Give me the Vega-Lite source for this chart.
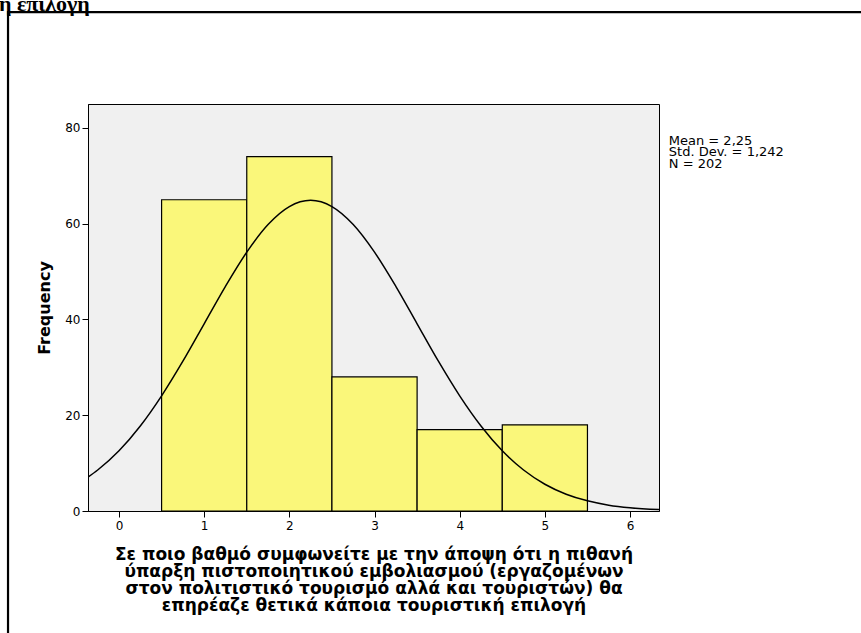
{
  "$schema": "https://vega.github.io/schema/vega-lite/v6.json",
  "width": 571,
  "height": 407,
  "autosize": "none",
  "padding": {"left": 88, "top": 104, "right": 202, "bottom": 122},
  "background": "white",
  "config": {
    "view": {"stroke": "black", "strokeWidth": 1, "fill": "#F0F0F0"},
    "axis": {
      "labelFont": "DejaVu Sans",
      "labelFontSize": 12,
      "labelColor": "black",
      "titleFont": "DejaVu Sans",
      "titleColor": "black",
      "titleFontWeight": "bold",
      "titleFontSize": 16,
      "domainColor": "black",
      "tickColor": "black",
      "tickSize": 6,
      "grid": false
    }
  },
  "datasets": {
    "bars": [
      {"value": 1, "lo": 0.5, "hi": 1.5, "count": 65},
      {"value": 2, "lo": 1.5, "hi": 2.5, "count": 74},
      {"value": 3, "lo": 2.5, "hi": 3.5, "count": 28},
      {"value": 4, "lo": 3.5, "hi": 4.5, "count": 17},
      {"value": 5, "lo": 4.5, "hi": 5.5, "count": 18}
    ],
    "curve": [
      {"x": -0.364, "y": 7.09},
      {"x": -0.25, "y": 8.56},
      {"x": 0, "y": 12.57},
      {"x": 0.25, "y": 17.75},
      {"x": 0.5, "y": 24.05},
      {"x": 0.75, "y": 31.28},
      {"x": 1, "y": 39.1},
      {"x": 1.25, "y": 46.92},
      {"x": 1.5, "y": 54.06},
      {"x": 1.75, "y": 59.83},
      {"x": 2, "y": 63.58},
      {"x": 2.25, "y": 64.88},
      {"x": 2.5, "y": 63.58},
      {"x": 2.75, "y": 59.83},
      {"x": 3, "y": 54.06},
      {"x": 3.25, "y": 46.92},
      {"x": 3.5, "y": 39.1},
      {"x": 3.75, "y": 31.28},
      {"x": 4, "y": 24.05},
      {"x": 4.25, "y": 17.75},
      {"x": 4.5, "y": 12.57},
      {"x": 4.75, "y": 8.56},
      {"x": 5, "y": 5.59},
      {"x": 5.25, "y": 3.51},
      {"x": 5.5, "y": 2.12},
      {"x": 5.75, "y": 1.22},
      {"x": 6, "y": 0.68},
      {"x": 6.34, "y": 0.29}
    ],
    "stats": [
      {"label": ["Mean = 2,25", "Std. Dev. = 1,242", "N = 202"]}
    ],
    "heading": [
      {"label": "η επιλογή"}
    ]
  },
  "layer": [
    {
      "data": {"name": "bars"},
      "mark": {"type": "rect", "fill": "#FAF77A", "stroke": "black", "strokeWidth": 1.2},
      "encoding": {
        "x": {
          "field": "lo",
          "type": "quantitative",
          "scale": {"domain": [-0.364, 6.34], "nice": false, "zero": false},
          "axis": {
            "values": [0, 1, 2, 3, 4, 5, 6],
            "format": "d",
            "labelPadding": 3,
            "titlePadding": 15,
            "titleFontSize": 17,
            "titleLineHeight": 17,
            "title": [
              "Σε ποιο βαθμό συμφωνείτε με την άποψη ότι η πιθανή",
              "ύπαρξη πιστοποιητικού εμβολιασμού (εργαζομένων",
              "στον πολιτιστικό τουρισμό αλλά και τουριστών) θα",
              "επηρέαζε θετικά κάποια τουριστική επιλογή"
            ]
          }
        },
        "x2": {"field": "hi"},
        "y": {
          "field": "count",
          "type": "quantitative",
          "scale": {"domain": [0, 85], "nice": false},
          "axis": {
            "values": [0, 20, 40, 60, 80],
            "labelPadding": 2,
            "titlePadding": 12,
            "title": "Frequency"
          }
        },
        "y2": {"datum": 0}
      }
    },
    {
      "data": {"name": "curve"},
      "mark": {"type": "line", "color": "black", "strokeWidth": 1.5, "interpolate": "monotone", "clip": true},
      "encoding": {
        "x": {"field": "x", "type": "quantitative"},
        "y": {"field": "y", "type": "quantitative"}
      }
    },
    {
      "data": {"name": "stats"},
      "mark": {"type": "text", "align": "left", "baseline": "top", "font": "DejaVu Sans", "fontSize": 13, "lineHeight": 11.5, "color": "black", "clip": false},
      "encoding": {
        "x": {"datum": 6.455, "type": "quantitative"},
        "y": {"datum": 78.6, "type": "quantitative"},
        "text": {"field": "label"}
      }
    },
    {
      "data": {"name": "heading"},
      "mark": {"type": "text", "align": "left", "baseline": "alphabetic", "font": "Liberation Serif", "fontSize": 22, "fontWeight": "bold", "color": "black", "clip": false},
      "encoding": {
        "x": {"datum": -1.41, "type": "quantitative"},
        "y": {"datum": 104.5, "type": "quantitative"},
        "text": {"field": "label"}
      }
    },
    {
      "data": {"values": [{}]},
      "mark": {"type": "rect", "filled": false, "stroke": "black", "strokeWidth": 2.2, "clip": false},
      "encoding": {
        "x": {"datum": -1.303, "type": "quantitative"},
        "x2": {"datum": 9},
        "y": {"datum": 104.2, "type": "quantitative"},
        "y2": {"datum": -30}
      }
    }
  ]
}
